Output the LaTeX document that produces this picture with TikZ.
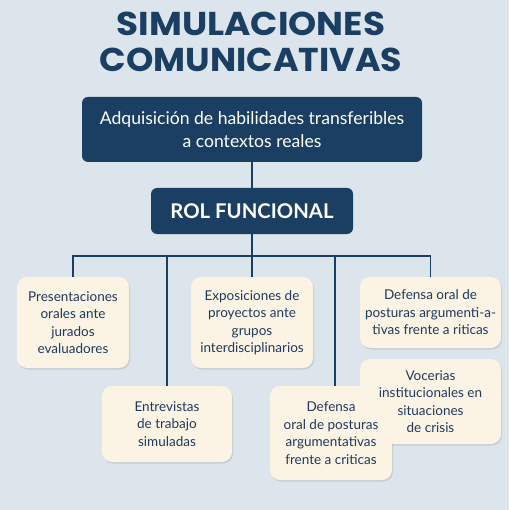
\documentclass[tikz,border=0pt]{standalone}
\usepackage{fontspec}
\setmainfont{Lato}
\newfontfamily\titlefont{Poppins}
\definecolor{page}{RGB}{219,229,235}
\definecolor{navy}{RGB}{27,63,99}
\definecolor{ink}{RGB}{30,58,92}
\definecolor{cream}{RGB}{251,243,228}
\usetikzlibrary{
  positioning,     % relative placement
  shadows          % soft shadow under the boxes
}
\tikzset{
  every node/.style = {
    align=center,
    inner sep=0pt,
    outer sep=0pt
  },
  title/.style = {text=navy, transform shape, font=\titlefont\bfseries\fontsize{33}{34}\selectfont},
  goal/.style = {rectangle, rounded corners=6pt, fill=navy, text=white,
    minimum width=340pt, minimum height=65pt,
    font=\fontsize{17.6}{23}\selectfont},
  rolbox/.style = {rectangle, rounded corners=6pt, fill=navy, text=white,
    minimum width=202pt, minimum height=46pt,
    font=\bfseries\fontsize{20.3}{22}\selectfont},
  leaf/.style = {text=ink, font=\fontsize{13.5}{17.5}\selectfont},
  leafbox/.style = {fill=cream, rounded corners=10pt},
  leafshadow/.style = {fill=black, opacity=0.10, rounded corners=10pt},
  link/.style = {draw=navy, line width=1.8pt}
}
\pgfdeclarelayer{background}
\pgfsetlayers{background,main}
\begin{document}
\begin{tikzpicture}[x=1pt, y=-1pt]

\node[title, anchor=base, xscale=1.085] (title1) at (251,36) {SIMULACIONES};
\node[title, anchor=base, xscale=1.055] (title2) at (251,72) {COMUNICATIVAS};

\node[goal] (goal) at (252,129.5) {Adquisición de habilidades transferibles\\a contextos reales};
\node[rolbox] (rol) at (252,211) {ROL FUNCIONAL};
\coordinate (bus) at (252,256);

% leaves
\node[leaf, minimum width=112pt, minimum height=91pt] (pres) at (73,322.5) {Presentaciones\\orales ante\\jurados\\evaluadores};
\node[leaf, minimum width=122pt, minimum height=91pt] (expo) at (252,322.5) {Exposiciones de\\proyectos ante\\grupos\\interdisciplinarios};
\node[leaf, minimum width=141pt, minimum height=71pt] (defa) at (430.5,312.5) {Defensa oral de\\posturas argumenti-a-\\tivas frente a riticas};
\node[leaf, minimum width=130pt, minimum height=76pt] (entr) at (167,424) {Entrevistas\\de trabajo\\simuladas};
\node[leaf, minimum width=122pt, minimum height=94pt] (defb) at (331,433) {Defensa\\oral de posturas\\argumentativas\\frente a criticas};
\node[leaf, minimum width=141pt, minimum height=85pt] (voce) at (430.5,401.5) {Vocerias\\institucionales en\\situaciones\\de crisis};

% connectors
\draw[link] (goal.south) -- (rol.north);
\draw[link] (rol.south) -- (bus);
\draw[link] (pres.north) -- (pres.north |- bus) -- (defa.north |- bus) -- (defa.north);
\foreach \n in {entr,expo} \draw[link] (\n.north) -- (\n.north |- bus);
\draw[link] ([xshift=4pt]defb.north) -- ([xshift=4pt]defb.north |- bus);

\begin{pgfonlayer}{background}
  \fill[page] (0,0) rectangle (509,510);
  \foreach \n in {pres,expo,defa,entr,defb,voce}
    \fill[leafshadow] ([shift={(1pt,-1.5pt)}]\n.south west) rectangle ([shift={(1pt,-1.5pt)}]\n.north east);
  \foreach \n in {pres,expo,defa,entr,defb,voce}
    \fill[leafbox] (\n.south west) rectangle (\n.north east);
\end{pgfonlayer}
\end{tikzpicture}
\end{document}
